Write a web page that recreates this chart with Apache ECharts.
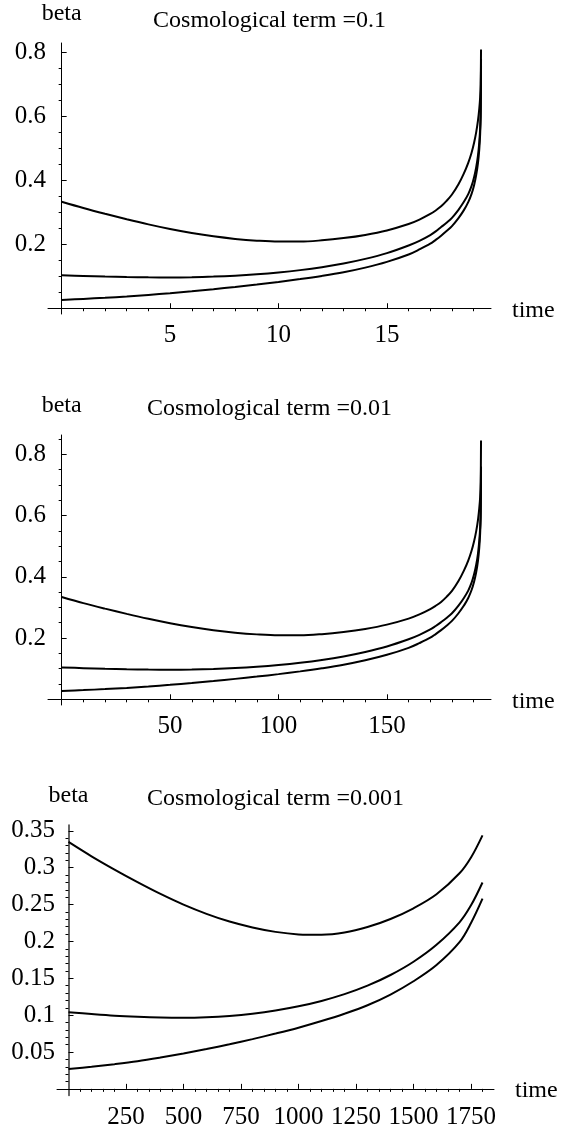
<!DOCTYPE html>
<html>
<head>
<meta charset="utf-8">
<script src="https://cdn.jsdelivr.net/npm/echarts@6/dist/echarts.min.js"></script>
<style>
html,body{margin:0;padding:0;background:#fff;}
#chart{width:561px;height:1129px;}
</style>
</head>
<body>
<div id="chart"></div>
<script>
// ---------- Panel 1 : Cosmological term = 0.1 ----------
const title1 = "Cosmological term =0.1";
const t1   = [0,1,2,3,4,5,6,7,8,9,10,11,12,13,14,15,16,16.5,17,17.25,17.5,17.75,18,18.3,18.55,18.75,18.9,19.02,19.12,19.2,19.26,19.3,19.325,19.34];
const top1 = [0.333,0.3135,0.2955,0.2785,0.2625,0.248,0.2355,0.2250,0.2170,0.2115,0.2085,0.2085,0.2125,0.2195,0.2295,0.2435,0.2635,0.2775,0.2950,0.306,0.319,0.336,0.356,0.388,0.422,0.455,0.486,0.518,0.552,0.588,0.625,0.66,0.70,0.81];
const mid1 = [0.103,0.1012,0.0992,0.0978,0.0968,0.0965,0.0972,0.0990,0.1020,0.1063,0.1120,0.1193,0.1285,0.1400,0.1545,0.1725,0.1965,0.211,0.229,0.2405,0.254,0.2675,0.283,0.308,0.333,0.357,0.382,0.41,0.442,0.478,0.52,0.565,0.62,0.78];
const bot1 = [0.026,0.0292,0.0327,0.0367,0.0417,0.0472,0.0532,0.0597,0.0667,0.0742,0.0822,0.0912,0.1012,0.1127,0.1272,0.1452,0.1682,0.184,0.202,0.214,0.227,0.2415,0.257,0.282,0.307,0.332,0.357,0.385,0.418,0.455,0.498,0.545,0.60,0.76];
const xMajor1 = [5,10,15];
const xMinor1 = [1,2,3,4,6,7,8,9,11,12,13,14,16,17,18,19];
const yMajor1 = [0.2,0.4,0.6,0.8];
const yMinor1 = [0.05,0.1,0.15,0.25,0.3,0.35,0.45,0.5,0.55,0.65,0.7,0.75];

// ---------- Panel 2 : Cosmological term = 0.01 ----------
const title2 = "Cosmological term =0.01";
const t2   = [0,10,20,30,40,50,60,70,80,90,100,110,120,130,140,150,160,165,170,172.5,175,177.5,180,183,185.5,187.5,189,190.2,191.2,192,192.6,193,193.25,193.4];
const top2 = [0.334,0.314,0.296,0.279,0.263,0.2485,0.236,0.2255,0.2175,0.212,0.209,0.209,0.2128,0.2198,0.2298,0.2438,0.2635,0.2772,0.2945,0.3055,0.318,0.3345,0.354,0.386,0.420,0.453,0.484,0.516,0.550,0.586,0.624,0.66,0.71,0.845];
const mid2 = [0.104,0.1018,0.0995,0.098,0.097,0.0966,0.0972,0.0990,0.1020,0.1063,0.1120,0.1193,0.1285,0.1400,0.1545,0.1725,0.1960,0.2105,0.228,0.2395,0.252,0.2655,0.281,0.306,0.331,0.355,0.380,0.408,0.440,0.476,0.518,0.562,0.615,0.76];
const bot2 = [0.027,0.0300,0.0333,0.0370,0.0418,0.0472,0.0532,0.0597,0.0667,0.0742,0.0822,0.0912,0.1012,0.1127,0.1272,0.1452,0.1680,0.1835,0.201,0.213,0.226,0.2405,0.256,0.281,0.306,0.331,0.356,0.384,0.416,0.453,0.496,0.542,0.595,0.75];
const xMajor2 = [50,100,150];
const xMinor2 = [10,20,30,40,60,70,80,90,110,120,130,140,160,170,180,190];
const yMajor2 = [0.2,0.4,0.6,0.8];
const yMinor2 = [0.05,0.1,0.15,0.25,0.3,0.35,0.45,0.5,0.55,0.65,0.7,0.75,0.85];

// ---------- Panel 3 : Cosmological term = 0.001 ----------
const title3 = "Cosmological term =0.001";
const t3   = [0,100,200,300,400,500,600,700,800,900,1000,1100,1200,1300,1400,1500,1600,1700,1750,1800];
const top3 = [0.335,0.3155,0.2975,0.2805,0.2645,0.2500,0.2375,0.2270,0.2190,0.2130,0.2096,0.2090,0.2120,0.2195,0.2305,0.2450,0.2640,0.2925,0.314,0.344];
const mid3 = [0.104,0.1015,0.0993,0.0978,0.0968,0.0965,0.0972,0.0990,0.1020,0.1063,0.1120,0.1193,0.1285,0.1400,0.1545,0.1725,0.1955,0.226,0.249,0.280];
const bot3 = [0.027,0.0300,0.0335,0.0375,0.0425,0.0480,0.0540,0.0605,0.0675,0.0750,0.0830,0.0920,0.1020,0.1135,0.1280,0.1460,0.1680,0.199,0.225,0.258];
const xMajor3 = [250,500,750,1000,1250,1500,1750];
const xMinor3 = [50,100,150,200,300,350,400,450,550,600,650,700,800,850,900,950,1050,1100,1150,1200,1300,1350,1400,1450,1550,1600,1650,1700,1800];
const yMajor3 = [0.05,0.1,0.15,0.2,0.25,0.3,0.35];
const yMinor3 = [0.01,0.02,0.03,0.04,0.06,0.07,0.08,0.09,0.11,0.12,0.13,0.14,0.16,0.17,0.18,0.19,0.21,0.22,0.23,0.24,0.26,0.27,0.28,0.29,0.31,0.32,0.33,0.34];

const xName = "time";
const yName = "beta";

// ---------- layout / style ----------
const FONT = "'Liberation Serif','Times New Roman',serif";
const TICK_FS = 25;
const NAME_FS = 24;

const panels = [
  {title:title1, t:t1, ys:[top1,mid1,bot1], xMaj:xMajor1, xMin:xMinor1, yMaj:yMajor1, yMin:yMinor1,
   grid:{left:48, top:43, width:443, height:271}, xr:[-0.63,19.8], yr:[-0.018,0.83], titleY:20.5, yLineW:1, yLineC:'#000'},
  {title:title2, t:t2, ys:[top2,mid2,bot2], xMaj:xMajor2, xMin:xMinor2, yMaj:yMajor2, yMin:yMinor2,
   grid:{left:48, top:435, width:443, height:270}, xr:[-6.3,198], yr:[-0.0186,0.863], titleY:409, yLineW:1, yLineC:'#000'},
  {title:title3, t:t3, ys:[top3,mid3,bot3], xMaj:xMajor3, xMin:xMinor3, yMaj:yMajor3, yMin:yMinor3,
   grid:{left:57, top:825, width:437, height:270.5}, xr:[-50,1850], yr:[-0.009,0.358], titleY:799, yLineW:1.5, yLineC:'#333'}
];

const plain = v => String(v);

const grids = [], xAxes = [], yAxes = [], series = [], graphics = [];
panels.forEach((p, gi) => {
  grids.push(Object.assign({containLabel:false, outerBoundsMode:'none', show:false}, p.grid));
  const majIdx = xAxes.length;
  xAxes.push({
    type:'value', gridIndex:gi, min:p.xr[0], max:p.xr[1],
    axisLine:{show:true, onZero:true, onZeroAxisIndex:majIdx, lineStyle:{color:'#000', width:1}},
    axisTick:{show:true, inside:true, length:5, customValues:p.xMaj, lineStyle:{color:'#000', width:1}},
    axisLabel:{show:true, customValues:p.xMaj, margin:9, color:'#000', fontFamily:FONT, fontSize:TICK_FS, formatter:plain},
    splitLine:{show:false},
    name:xName, nameLocation:'end', nameGap:21,
    nameTextStyle:{color:'#000', fontFamily:FONT, fontSize:NAME_FS, verticalAlign:'top', lineHeight:4}
  });
  xAxes.push({
    type:'value', gridIndex:gi, min:p.xr[0], max:p.xr[1],
    axisLine:{show:false, onZero:true, onZeroAxisIndex:majIdx},
    axisTick:{show:true, inside:true, length:3, customValues:p.xMin, lineStyle:{color:'#000', width:1}},
    axisLabel:{show:false},
    splitLine:{show:false}
  });
  yAxes.push({
    type:'value', gridIndex:gi, min:p.yr[0], max:p.yr[1],
    axisLine:{show:true, onZero:true, onZeroAxisIndex:majIdx, lineStyle:{color:p.yLineC, width:p.yLineW}},
    axisTick:{show:true, inside:true, length:5, customValues:p.yMaj, lineStyle:{color:'#000', width:1}},
    axisLabel:{show:true, customValues:p.yMaj, margin:2, color:'#000', fontFamily:FONT, fontSize:TICK_FS, formatter:plain},
    splitLine:{show:false},
    name:yName, nameLocation:'end', nameGap:17,
    nameTextStyle:{color:'#000', fontFamily:FONT, fontSize:NAME_FS, align:'center'}
  });
  yAxes.push({
    type:'value', gridIndex:gi, min:p.yr[0], max:p.yr[1],
    axisLine:{show:false, onZero:true, onZeroAxisIndex:majIdx},
    axisTick:{show:true, inside:true, length:3, customValues:p.yMin, lineStyle:{color:'#000', width:1}},
    axisLabel:{show:false},
    splitLine:{show:false}
  });
  p.ys.forEach(vals => {
    series.push({
      type:'line', xAxisIndex:majIdx, yAxisIndex:majIdx,
      data:p.t.map((x,i)=>[x, vals[i]]),
      showSymbol:false, symbol:'none', smooth:0.35,
      lineStyle:{color:'#000', width:2}, silent:true
    });
  });
  graphics.push({
    type:'text', x:p.grid.left + p.grid.width/2, y:p.titleY,
    style:{text:p.title, fill:'#000', font:NAME_FS + 'px ' + FONT, align:'center', verticalAlign:'middle'}
  });
});

const chart = echarts.init(document.getElementById('chart'), null, {renderer:'canvas'});
chart.setOption({
  animation:false,
  backgroundColor:'#fff',
  grid:grids, xAxis:xAxes, yAxis:yAxes, series:series, graphic:graphics
});
</script>
</body>
</html>
